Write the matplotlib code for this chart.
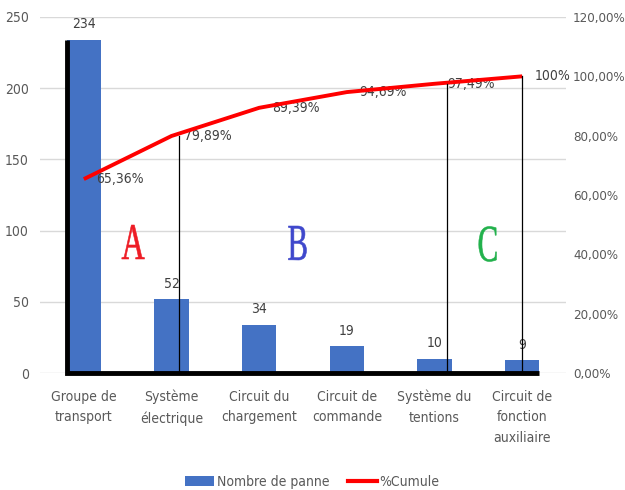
import matplotlib
matplotlib.use('Agg')
import matplotlib.pyplot as plt
import numpy as np
from matplotlib.patches import Patch, PathPatch
from matplotlib.lines import Line2D
from matplotlib.textpath import TextPath
from matplotlib.font_manager import FontProperties
from matplotlib.path import Path

categories = ['Groupe de\ntransport', 'Système\nélectrique', 'Circuit du\nchargement',
              'Circuit de\ncommande', 'Système du\ntentions', 'Circuit de\nfonction\nauxiliaire']
pannes = [234, 52, 34, 19, 10, 9]
cumul = [65.36, 79.89, 89.39, 94.69, 97.49, 100.0]
cumul_labels = ['65,36%', '79,89%', '89,39%', '94,69%', '97,49%', '100%']
left_ticks = [0, 50, 100, 150, 200, 250]
right_ticks = [0, 20, 40, 60, 80, 100, 120]
right_labels = ['0,00%', '20,00%', '40,00%', '60,00%', '80,00%', '100,00%', '120,00%']

BLUE = '#4472C4'
RED = '#FF0000'
GRAY = '#595959'
GRID = '#D9D9D9'

plt.rcParams['font.family'] = ['DejaVu Sans']
plt.rcParams['font.stretch'] = 'condensed'

W, H = 625, 490
fig = plt.figure(figsize=(W / 100, H / 100), dpi=100)
ax = fig.add_axes([40 / W, 1 - 373 / H, 526 / W, 356 / H])
ax2 = ax.twinx()

x = np.arange(len(categories))
bw = 0.39

# bars
ax.bar(x, pannes, width=bw, color=BLUE, zorder=2)
ax.set_xlim(-0.5, len(categories) - 0.5)
ax.set_ylim(0, 250)
ax.set_yticks(left_ticks)
ax.yaxis.grid(True, color=GRID, lw=1, zorder=0)
ax.set_axisbelow(True)
ax.set_xticks(x)
ax.set_xticklabels(categories, linespacing=1.6)
ax.tick_params(length=0, labelsize=10, labelcolor=GRAY)
ax.tick_params(axis='x', pad=12)
ax.tick_params(axis='y', pad=8)
for sp in ax.spines.values():
    sp.set_visible(False)

for xi, v in zip(x, pannes):
    ax.annotate(str(v), (xi, v), xytext=(0, 6), textcoords='offset points',
                ha='center', va='bottom', fontsize=10, color='#404040')

# thick black frame along first bar and base
ax.plot([-bw / 2, -bw / 2, x[-1] + bw / 2], [pannes[0], 0, 0], color='black',
        lw=3.5, solid_capstyle='butt', solid_joinstyle='miter', zorder=4, clip_on=False)

# cumulative curve
ax2.set_ylim(0, 120)
ax2.set_yticks(right_ticks)
ax2.set_yticklabels(right_labels)
ax2.tick_params(length=0, labelsize=9.5, labelcolor=GRAY, pad=5)
for sp in ax2.spines.values():
    sp.set_visible(False)
ax2.plot(x, cumul, color=RED, lw=2.8, zorder=5, solid_capstyle='butt')
for xi, v, lab in zip(x, cumul, cumul_labels):
    ax2.annotate(lab, (xi, v), xytext=(9, 0), textcoords='offset points',
                 ha='left', va='center', fontsize=10, color='#404040')

# separation lines between the A / B / C zones
for idx, dx in [(1, 0.09), (4, 0.14), (5, 0.0)]:
    ax2.plot([x[idx] + dx, x[idx] + dx], [0, cumul[idx]], color='black', lw=0.9, zorder=6)

# zone letters drawn as condensed serif glyphs
def letter(ch, cx, cy, w, h, color):
    tp = TextPath((0, 0), ch, size=1, prop=FontProperties(family='Liberation Serif'))
    v = tp.vertices.copy()
    x0, y0 = v.min(axis=0)
    x1, y1 = v.max(axis=0)
    v[:, 0] = (cx + (v[:, 0] - (x0 + x1) / 2) / (x1 - x0) * w) / W
    v[:, 1] = (H - cy + (v[:, 1] - (y0 + y1) / 2) / (y1 - y0) * h) / H
    fig.add_artist(PathPatch(Path(v, tp.codes), facecolor=color, edgecolor=color, lw=0.4,
                             transform=fig.transFigure, zorder=7))

letter('A', 133, 242, 23, 34, '#EE1C25')
letter('B', 297, 243, 19, 34, '#3F48CC')
letter('C', 487, 244, 19, 35, '#22B14C')

handles = [Patch(facecolor=BLUE, edgecolor='none', label='Nombre de panne'),
           Line2D([0], [0], color=RED, lw=3, label='%Cumule')]
fig.legend(handles=handles, loc='center', bbox_to_anchor=(0.5, 1 - 482 / H),
           ncol=2, frameon=False, fontsize=10, labelcolor=GRAY,
           handlelength=2.1, handletextpad=0.2, columnspacing=1.3)

fig.savefig('out.png', dpi=100, facecolor='white')
